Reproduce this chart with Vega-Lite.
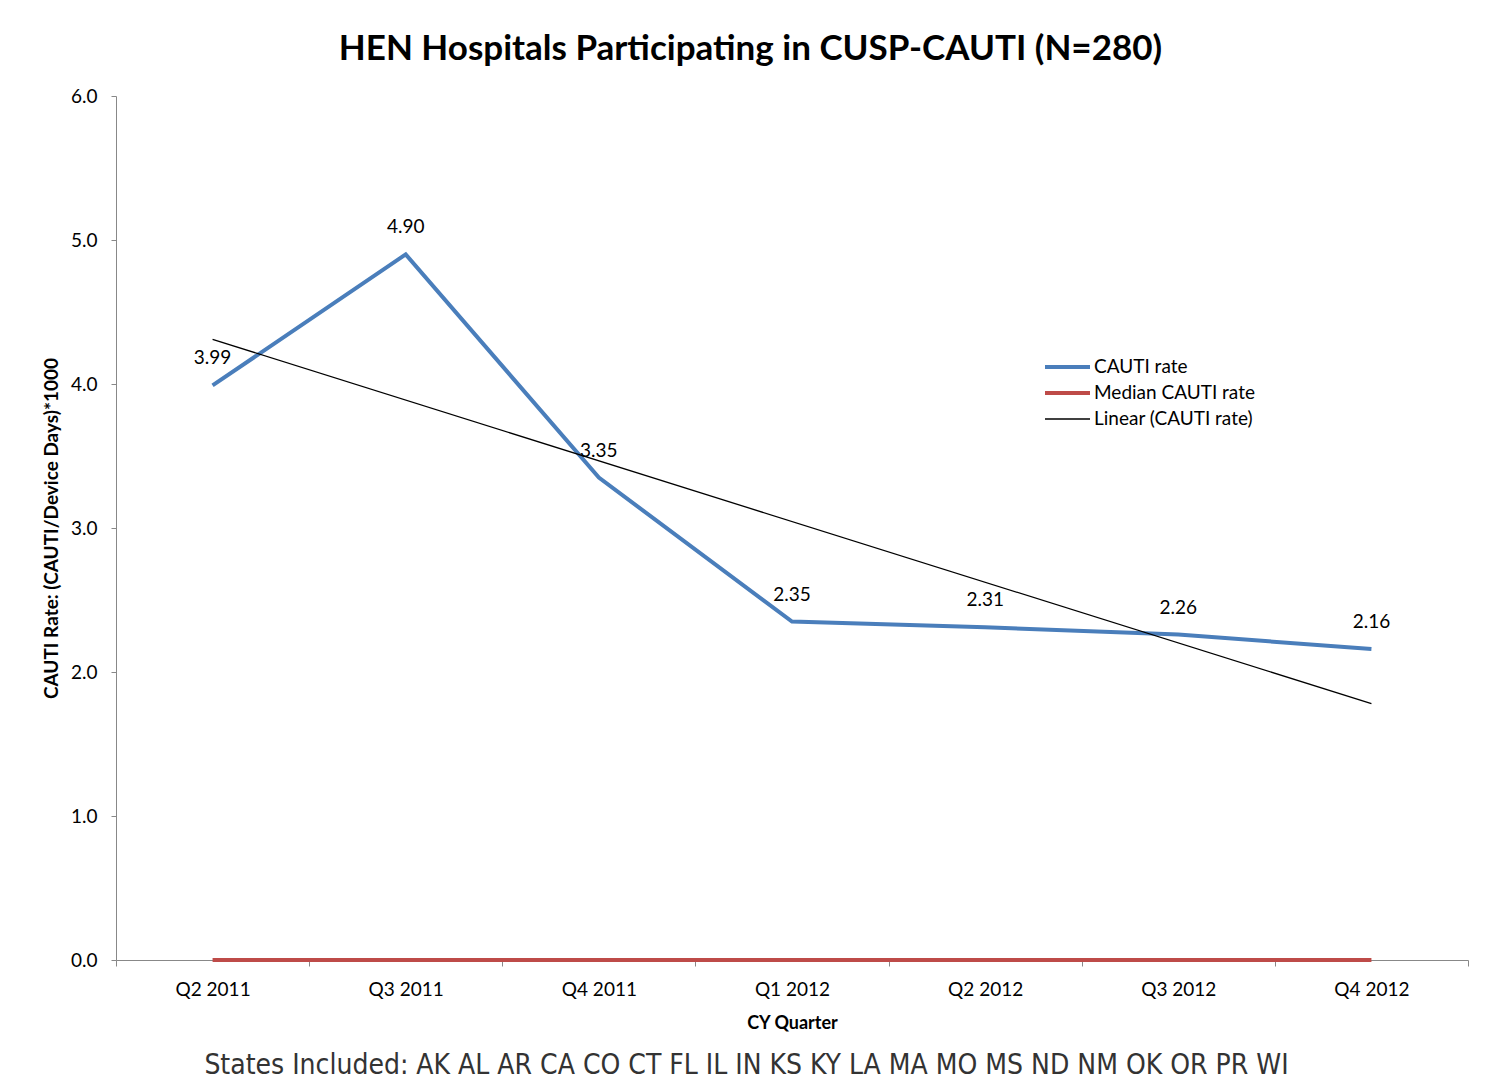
{
  "$schema": "https://vega.github.io/schema/vega-lite/v6.json",
  "background": "white",
  "padding": {"left": 42, "top": 32, "right": 20, "bottom": 0},
  "title": {
    "text": "States Included: AK AL AR CA CO  CT FL IL IN KS KY LA MA MO MS ND NM OK OR PR WI",
    "orient": "bottom",
    "anchor": "middle",
    "frame": "bounds",
    "font": "DejaVu Sans Condensed",
    "fontSize": 28,
    "fontWeight": "normal",
    "color": "#333333",
    "offset": 20,
    "dx": -9
  },
  "datasets": {
    "main": [
      {"quarter": "Q2 2011", "series": "CAUTI rate", "value": 3.99},
      {"quarter": "Q3 2011", "series": "CAUTI rate", "value": 4.90},
      {"quarter": "Q4 2011", "series": "CAUTI rate", "value": 3.35},
      {"quarter": "Q1 2012", "series": "CAUTI rate", "value": 2.35},
      {"quarter": "Q2 2012", "series": "CAUTI rate", "value": 2.31},
      {"quarter": "Q3 2012", "series": "CAUTI rate", "value": 2.26},
      {"quarter": "Q4 2012", "series": "CAUTI rate", "value": 2.16},
      {"quarter": "Q2 2011", "series": "Median CAUTI rate", "value": 0},
      {"quarter": "Q3 2011", "series": "Median CAUTI rate", "value": 0},
      {"quarter": "Q4 2011", "series": "Median CAUTI rate", "value": 0},
      {"quarter": "Q1 2012", "series": "Median CAUTI rate", "value": 0},
      {"quarter": "Q2 2012", "series": "Median CAUTI rate", "value": 0},
      {"quarter": "Q3 2012", "series": "Median CAUTI rate", "value": 0},
      {"quarter": "Q4 2012", "series": "Median CAUTI rate", "value": 0},
      {"quarter": "Q2 2011", "series": "Linear (CAUTI rate)", "value": 4.31},
      {"quarter": "Q4 2012", "series": "Linear (CAUTI rate)", "value": 1.78}
    ]
  },
  "vconcat": [
    {
      "width": 1352,
      "height": 864,
      "title": {
        "text": "HEN Hospitals Participating in CUSP-CAUTI (N=280)",
        "anchor": "middle",
        "frame": "bounds",
        "font": "Lato",
        "fontSize": 35,
        "fontWeight": "bold",
        "color": "#000000",
        "offset": 20,
        "dx": -5
      },
      "data": {"name": "main"},
      "encoding": {
        "x": {
          "field": "quarter",
          "type": "nominal",
          "sort": ["Q2 2011", "Q3 2011", "Q4 2011", "Q1 2012", "Q2 2012", "Q3 2012", "Q4 2012"],
          "scale": {"paddingInner": 0, "paddingOuter": 0},
          "axis": {
            "title": "CY Quarter",
            "labelAngle": 0,
            "tickBand": "extent",
            "tickSize": 6,
            "labelPadding": 14,
            "titlePadding": 15,
            "labelFontSize": 19,
            "titleFontSize": 18
          }
        },
        "y": {
          "field": "value",
          "type": "quantitative",
          "scale": {"domain": [0, 6], "nice": false},
          "axis": {
            "title": "CAUTI Rate: (CAUTI/Device Days)*1000",
            "values": [0, 1, 2, 3, 4, 5, 6],
            "format": ".1f",
            "grid": false,
            "tickSize": 5,
            "labelPadding": 14,
            "titlePadding": 9,
            "labelFontSize": 19,
            "titleFontSize": 19
          }
        }
      },
      "layer": [
        {
          "mark": {"type": "line", "strokeCap": "butt", "strokeJoin": "miter"},
          "encoding": {
            "order": {"value": null},
            "color": {
              "field": "series",
              "type": "nominal",
              "scale": {
                "domain": ["CAUTI rate", "Median CAUTI rate", "Linear (CAUTI rate)"],
                "range": ["#4A7EBB", "#BE4B48", "#000000"]
              },
              "legend": {
                "title": null,
                "orient": "none",
                "legendX": 927,
                "legendY": 258,
                "symbolType": "stroke",
                "symbolSize": 2025,
                "labelFontSize": 19,
                "labelOffset": 2,
                "labelLimit": 400,
                "clipHeight": 26,
                "rowPadding": 0,
                "labelColor": "#000000"
              }
            },
            "strokeWidth": {
              "field": "series",
              "type": "nominal",
              "scale": {
                "type": "ordinal",
                "domain": ["CAUTI rate", "Median CAUTI rate", "Linear (CAUTI rate)"],
                "range": [4, 4, 1.3]
              },
              "legend": {
                "title": null,
                "orient": "none",
                "legendX": 927,
                "legendY": 258,
                "symbolType": "stroke",
                "symbolSize": 2025,
                "labelFontSize": 19,
                "labelOffset": 2,
                "labelLimit": 400,
                "clipHeight": 26,
                "rowPadding": 0,
                "labelColor": "#000000"
              }
            }
          }
        },
        {
          "transform": [{"filter": "datum.series === 'CAUTI rate'"}],
          "mark": {"type": "text", "dy": -27, "fontSize": 19, "color": "#000000"},
          "encoding": {
            "text": {"field": "value", "type": "quantitative", "format": ".2f"}
          }
        }
      ]
    }
  ],
  "config": {
    "font": "Lato",
    "view": {"stroke": null},
    "axis": {
      "domainColor": "#888888",
      "tickColor": "#888888",
      "labelColor": "#000000",
      "titleColor": "#000000",
      "labelFont": "Lato",
      "titleFont": "Lato",
      "titleFontWeight": "bold"
    },
    "legend": {"labelFont": "Lato"}
  }
}
